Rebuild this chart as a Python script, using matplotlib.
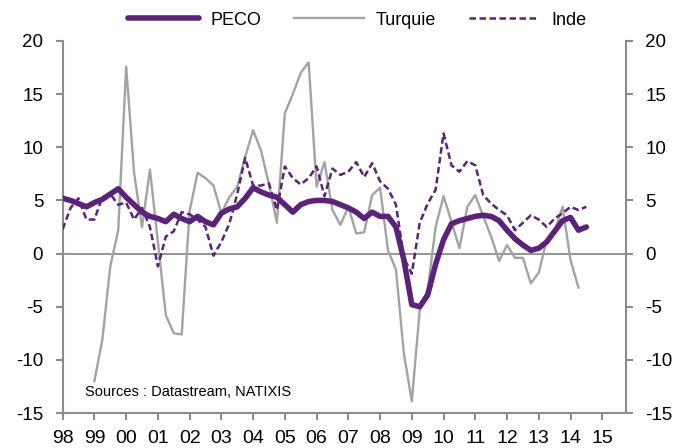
import numpy as np
import matplotlib
matplotlib.use("Agg")
import matplotlib.pyplot as plt

plt.rcParams["font.family"] = ["Liberation Sans", "DejaVu Sans"]
plt.rcParams["axes.unicode_minus"] = False

# trimestriel, 1998T1 -> 2014T3
peco = [5.2, 5.0, 4.7, 4.4,
        4.8, 5.1, 5.6, 6.1,
        5.3, 4.6, 3.9, 3.5,
        3.3, 3.0, 3.7, 3.3,
        3.0, 3.5, 3.0, 2.7,
        3.8, 4.2, 4.4, 5.2,
        6.2, 5.8, 5.5, 5.3,
        4.6, 3.9, 4.6, 4.9,
        5.0, 5.0, 4.9, 4.6,
        4.3, 3.9, 3.3, 3.9,
        3.5, 3.5, 2.5, -0.6,
        -4.8, -5.0, -3.9, -1.0,
        1.3, 2.8, 3.1, 3.3,
        3.5, 3.6, 3.5, 3.1,
        2.2, 1.4, 0.8, 0.3,
        0.5, 1.1, 2.1, 3.1,
        3.4, 2.2, 2.5]

# 1999T1 -> 2014T2
turquie = [-12.0, -8.1, -1.2, 2.2,
           17.6, 7.6, 2.5, 7.9,
           1.1, -5.8, -7.5, -7.6,
           4.0, 7.6, 7.1, 6.4,
           3.8, 5.3, 6.3, 9.1,
           11.6, 9.7, 6.5, 2.9,
           13.2, 15.0, 17.0, 18.0,
           6.3, 8.6, 4.1, 2.7,
           4.4, 1.9, 2.0, 5.5,
           6.2, 0.3, -1.5, -9.4,
           -13.9, -5.3, -3.4, 2.5,
           5.4, 3.0, 0.5, 4.4,
           5.5, 3.5, 1.6, -0.7,
           0.8, -0.4, -0.4, -2.8,
           -1.8, 1.3, 2.1, 4.4,
           -0.6, -3.2]

# 1998T1 -> 2014T3
inde = [2.3, 4.3, 5.2, 3.2,
        3.2, 5.3, 5.6, 4.6,
        4.8, 3.2, 4.3, 2.5,
        -1.2, 1.6, 2.1, 3.9,
        3.7, 3.2, 2.5, -0.2,
        1.1, 2.8, 5.6, 9.0,
        6.4, 6.4, 6.6, 4.1,
        8.2, 7.1, 6.5, 7.1,
        8.2, 5.4, 8.0, 7.4,
        7.7, 8.6, 7.2, 8.5,
        6.8, 6.1, 4.6, -0.4,
        -1.9, 2.9, 4.7, 6.0,
        11.3, 8.3, 7.7, 8.7,
        8.3, 5.5, 4.7, 4.1,
        3.6, 2.2, 2.9, 3.6,
        3.2, 2.5, 3.3, 3.8,
        4.4, 4.1, 4.4]

years = list(range(1998, 2016))
year_labels = ["%02d" % (y % 100) for y in years]

x_peco = 1998 + 0.25 * np.arange(len(peco))
x_turq = 1999 + 0.25 * np.arange(len(turquie))
x_inde = 1998 + 0.25 * np.arange(len(inde))

violet = "#5a2379"
gris = "#a3a3a3"
axe = "#8c8c8c"

fig = plt.figure(figsize=(6.91, 4.48), dpi=100)
ax = fig.add_axes([0.0907, 0.0781, 0.8153, 0.8304])

ax.axhline(0, color=axe, lw=1.3, zorder=1)
ax.plot(x_peco, peco, color=violet, lw=4, solid_capstyle="round",
        solid_joinstyle="round", label="PECO", zorder=4)
ax.plot(x_turq, turquie, color=gris, lw=1.7, label="Turquie", zorder=2)
ax.plot(x_inde, inde, color=violet, lw=1.8, linestyle=(0, (2.6, 1.4)),
        label="Inde", zorder=3)

ax.set_xlim(1998, 2015.75)
ax.set_ylim(-15, 20)
ax.set_yticks(range(-15, 21, 5))
ax.set_xticks(years)
ax.set_xticklabels(year_labels)

ax.spines["top"].set_visible(False)
for s in ["left", "right", "bottom"]:
    ax.spines[s].set_color(axe)
    ax.spines[s].set_linewidth(1.5)

ax.tick_params(axis="y", direction="out", left=True, right=True,
               labelleft=True, labelright=True, length=5, width=1.5,
               color=axe, labelsize=13.5, pad=9)
ax.tick_params(axis="x", direction="out", length=5, width=1.5,
               color=axe, labelsize=14, pad=7)

ax.text(0.04, 0.056, "Sources : Datastream, NATIXIS", transform=ax.transAxes,
        fontsize=10.5, va="center", ha="left")

fig.legend(loc="center", bbox_to_anchor=(0.517, 0.955), ncol=3, frameon=False,
           fontsize=13, handlelength=3.9, handletextpad=0.65, columnspacing=1.8)

fig.savefig("out.png", dpi=100)
